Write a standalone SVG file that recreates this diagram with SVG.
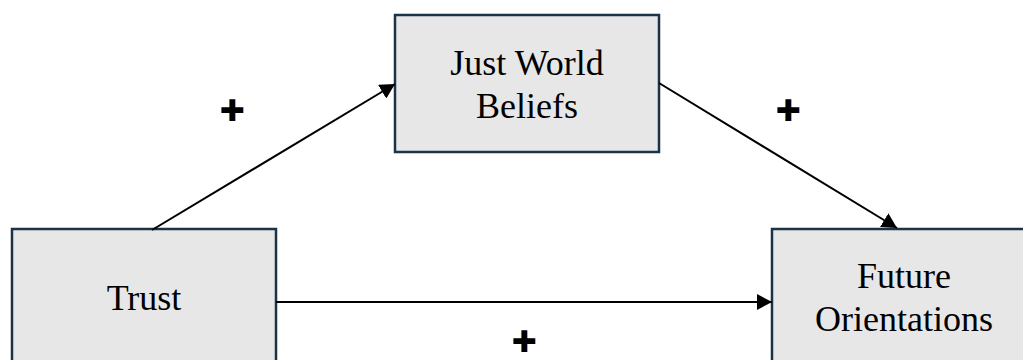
<svg xmlns="http://www.w3.org/2000/svg" width="1023" height="360" viewBox="0 0 1023 360">
<style>
.box{fill:#e7e7e7;stroke:#1b3347;stroke-width:2.5}
.lbl{font-family:"Liberation Serif","Times New Roman",serif;font-size:36px;fill:#000;text-anchor:middle}
.edge{stroke:#000;stroke-width:2;fill:none}
.sign{font-family:"DejaVu Sans",sans-serif;font-size:30px;fill:#000;text-anchor:middle;dominant-baseline:central}
</style>
<defs>
<marker id="arr" markerUnits="userSpaceOnUse" markerWidth="16" markerHeight="16" refX="15" refY="8" orient="auto">
<path d="M0,0 L15,8 L0,16 z" fill="#000"/>
</marker>
</defs>
<rect width="1023" height="360" fill="#fff"/>
<g id="node-just-world">
<rect class="box" x="395" y="15" width="264" height="137"/>
<text class="lbl" x="527" y="75">Just World</text>
<text class="lbl" x="527" y="118">Beliefs</text>
</g>
<g id="node-trust">
<rect class="box" x="12" y="229" width="264" height="150"/>
<text class="lbl" x="144" y="310">Trust</text>
</g>
<g id="node-future">
<rect class="box" x="772" y="229" width="264" height="150"/>
<text class="lbl" x="904" y="288">Future</text>
<text class="lbl" x="904" y="331">Orientations</text>
</g>
<g id="connectors">
<line class="edge" x1="152" y1="230" x2="395" y2="84" marker-end="url(#arr)"/>
<line class="edge" x1="659" y1="83" x2="897" y2="228" marker-end="url(#arr)"/>
<line class="edge" x1="276" y1="302" x2="772" y2="302" marker-end="url(#arr)"/>
</g>
<g id="signs">
<text class="sign" x="232" y="110">✚</text>
<text class="sign" x="788" y="110">✚</text>
<text class="sign" x="524" y="341">✚</text>
</g>
</svg>
